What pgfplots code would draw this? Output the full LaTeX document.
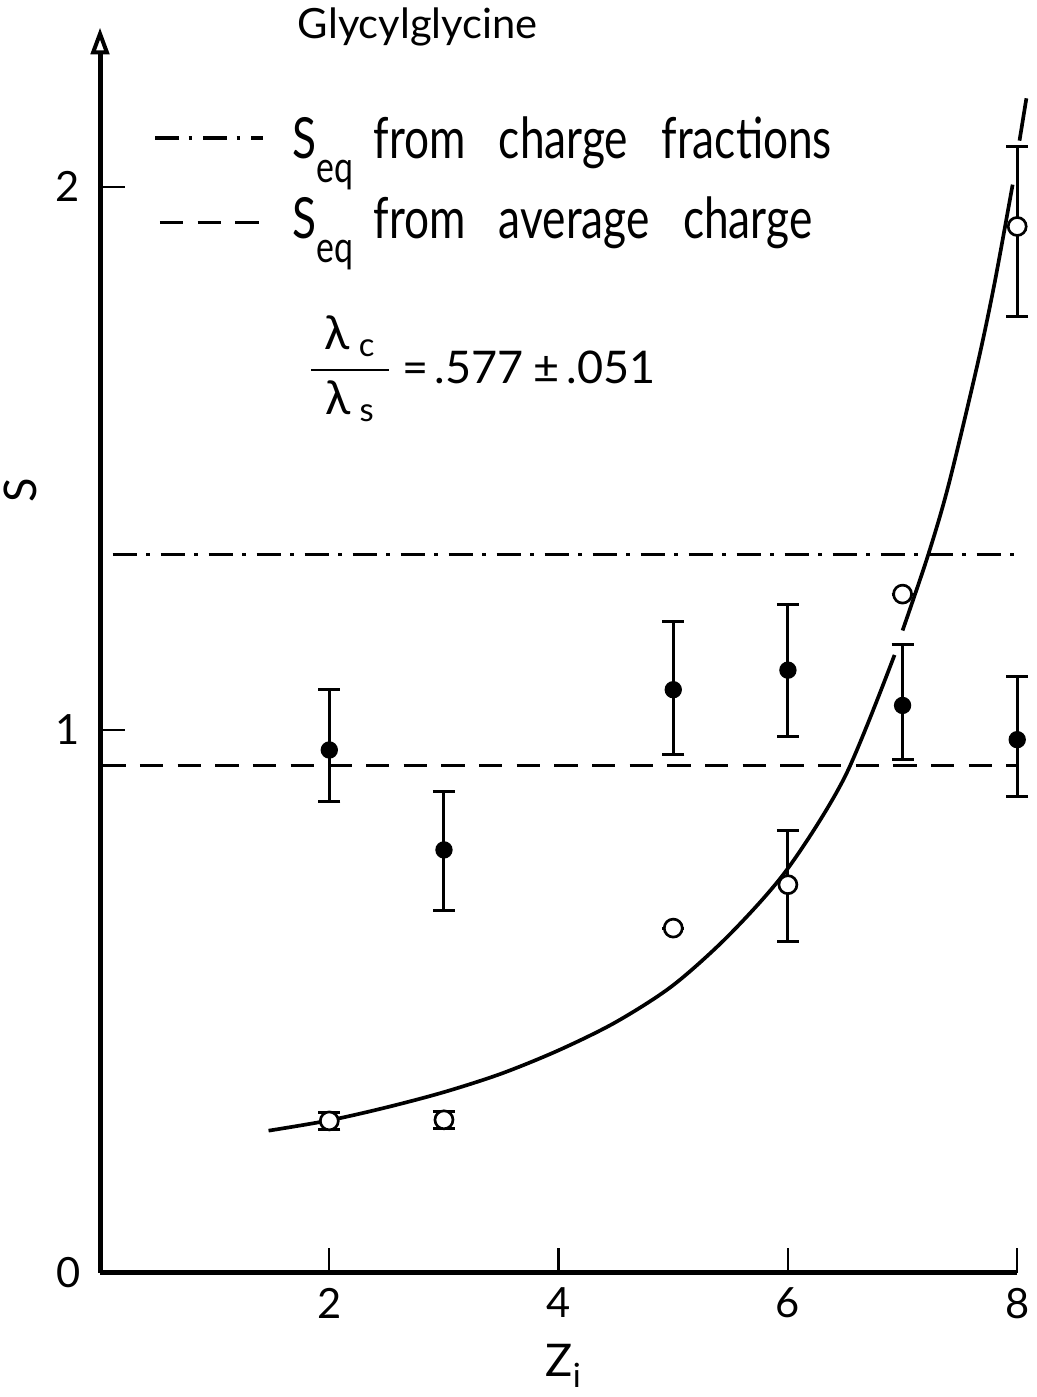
\documentclass[border=0pt]{standalone}
\usepackage{fontspec}
\setmainfont{Lato}
\newfontfamily\legendfont[FakeStretch=0.78]{Lato}
\usepackage{amsmath}
\usepackage{pgfplots}
\pgfplotsset{compat=1.18}
\usetikzlibrary{arrows.meta}

\begin{document}
\begin{tikzpicture}
\begin{axis}[
  x=34.39pt, y=162.9pt,
  xmin=0, xmax=8, ymin=0, ymax=2.293,
  axis lines=left,
  axis line style={line width=1.5pt},
  x axis line style={-},
  y axis line style={-{Triangle[open,length=8pt,width=5.5pt,line width=1.2pt]}},
  xtick={2,4,6,8}, ytick={1,2},
  tick align=inside,
  major tick length=7.5pt,
  tick style={line width=0.7pt, black},
  xticklabel style={font=\fontsize{12.5}{14}\selectfont, yshift=-1pt},
  yticklabel style={font=\fontsize{12.5}{14}\selectfont, xshift=-2.5pt},
  /pgf/number format/assume math mode=true,
  clip=false,
]
% horizontal reference lines
\addplot[line width=1pt, dash pattern=on 7.2pt off 2.9pt on 1pt off 3.3pt] coordinates {(0.11,1.323) (8,1.323)};
\addplot[line width=1pt, dash pattern=on 7pt off 4.3pt] coordinates {(0.02,0.934) (8,0.934)};

% fitted curve (hand drawn, broken at error-bar caps)
\addplot[smooth, line width=1.1pt] coordinates {
 (1.47,0.262) (2.0,0.281) (2.5,0.305) (3.0,0.333) (3.5,0.367) (4.0,0.410)
 (4.5,0.462) (5.0,0.530) (5.5,0.625) (6.0,0.745) (6.5,0.915) (6.93,1.138)};
\addplot[smooth, line width=1.1pt] coordinates {
 (7.0,1.183) (7.22,1.320) (7.4,1.450) (7.65,1.670) (7.8,1.820) (7.96,2.004)};
\addplot[smooth, line width=1.1pt] coordinates {
 (8.02,2.085) (8.05,2.124) (8.08,2.163)};

% filled points
\addplot[only marks, mark=*, mark size=2.4pt, mark options={fill=black, draw=black},
  error bars/.cd, y dir=both, y explicit,
  error bar style={line width=0.9pt, black},
  error mark options={rotate=90, mark size=3.3pt, line width=0.9pt}]
 coordinates {
 (2,0.963) += (0,0.111) -= (0,0.094)
 (3,0.779) += (0,0.107) -= (0,0.112)
 (5,1.074) += (0,0.126) -= (0,0.120)
 (6,1.110) += (0,0.120) -= (0,0.123)
 (7,1.045) += (0,0.113) -= (0,0.099)
 (8,0.982) += (0,0.116) -= (0,0.105)
 };

% open points
\addplot[only marks, mark=*, mark size=2.7pt, mark options={fill=white, draw=black, line width=0.8pt},
  error bars/.cd, y dir=both, y explicit,
  error bar style={line width=0.9pt, black},
  error mark options={rotate=90, mark size=3.3pt, line width=0.9pt}]
 coordinates {
 (2,0.280) += (0,0.016) -= (0,0.016)
 (3,0.282) += (0,0.016) -= (0,0.016)
 (5,0.635) += (0,0) -= (0,0)
 (6,0.715) += (0,0.099) -= (0,0.104)
 (7,1.250) += (0,0) -= (0,0)
 (8,1.927) += (0,0.148) -= (0,0.166)
 };

% texts
\node[font=\fontsize{12.5}{14}\selectfont] at (axis cs:-0.277,0) {0};
\node[font=\fontsize{12.5}{14}\selectfont, anchor=base west, inner sep=0pt] at (axis cs:1.72,2.274) {Glycylglycine};
\node[font=\fontsize{13.5}{16}\selectfont, rotate=90] at (axis cs:-0.698,1.442) {S};
\node[font=\fontsize{13.5}{16}\selectfont, anchor=base, inner sep=0pt] at (axis cs:4.04,-0.190) {Z\raisebox{-0.25em}{\fontsize{10}{12}\selectfont i}};

% legend
\draw[line width=1pt, dash pattern=on 7.2pt off 2.9pt on 1pt off 3.3pt] (axis cs:0.48,2.090) -- (axis cs:1.422,2.090);
\draw[line width=1pt, dash pattern=on 7pt off 4.3pt] (axis cs:0.523,1.934) -- (axis cs:1.483,1.934);
\node[font=\legendfont\fontsize{17}{19}\selectfont, anchor=base west, inner sep=0pt] at (axis cs:1.675,2.052)
  {S\raisebox{-0.42em}{\fontsize{13}{15}\selectfont eq}\hspace{6pt}from\hspace{10pt}charge\hspace{10pt}fractions};
\node[font=\legendfont\fontsize{17}{19}\selectfont, anchor=base west, inner sep=0pt] at (axis cs:1.675,1.905)
  {S\raisebox{-0.42em}{\fontsize{13}{15}\selectfont eq}\hspace{6pt}from\hspace{10pt}average\hspace{10pt}charge};

% ratio
\node[font=\fontsize{14}{16}\selectfont, anchor=west, inner sep=0pt] at (axis cs:1.80,1.665)
  {$\dfrac{\;\text{λ}_{\;\text{c}}\;}{\;\text{λ}_{\;\text{s}}\;}$};
\node[font=\fontsize{13.5}{16}\selectfont, anchor=west, inner sep=0pt] at (axis cs:2.63,1.668)
  {=\hspace{2pt}.577\hspace{3pt}±\hspace{2pt}.051};

\coordinate (BL) at (axis cs:-0.8724,-0.2284);
\coordinate (TR) at (axis cs:8.166,2.344);
\end{axis}
\pgfresetboundingbox
\path[use as bounding box] (BL) rectangle (TR);
\end{tikzpicture}
\end{document}
